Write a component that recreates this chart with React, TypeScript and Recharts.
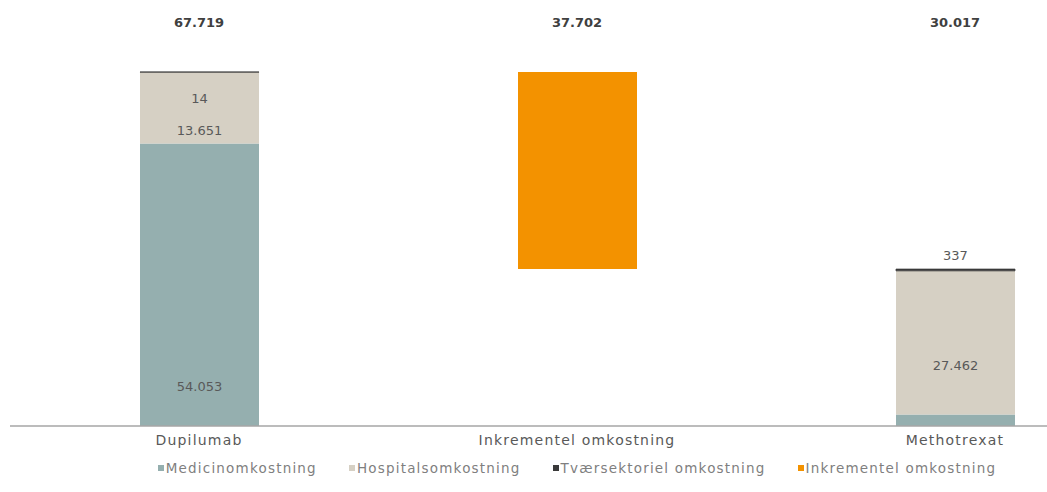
import { BarChart, Bar, XAxis, YAxis, LabelList, Legend } from 'recharts'

// costs per patient (DKK)
const categories = ['Dupilumab', 'Inkrementel omkostning', 'Methotrexat']
const medicin = [54053, 0, 2218]
const hospital = [13651, 0, 27462]
const tvaersektoriel = [14, 0, 337]
const incrementBase = [0, 30017, 0]
const incremental = [0, 37702, 0]
const totals = [67719, 37702, 30017]

const data = categories.map((name, i) => ({
  name,
  medicin: medicin[i],
  hospital: hospital[i],
  tvaer: tvaersektoriel[i],
  base: incrementBase[i],
  incr: incremental[i],
}))

const FONT = "'DejaVu Sans', sans-serif"
const TEXT = '#595959'

const series = [
  { key: 'medicin', name: 'Medicinomkostning', color: '#95afaf' },
  { key: 'hospital', name: 'Hospitalsomkostning', color: '#d6d0c4' },
  { key: 'tvaer', name: 'Tværsektoriel omkostning', color: '#3a3a3a' },
  { key: 'incr', name: 'Inkrementel omkostning', color: '#f39200' },
]

const fmt = (v: number) => String(v).replace(/\B(?=(\d{3})+(?!\d))/g, '.')

const segLabel = (y: number, x: number, w: number, v: number, key: string) => (
  <text
    key={key}
    x={x + w / 2}
    y={y}
    textAnchor="middle"
    dominantBaseline="central"
    fontFamily={FONT}
    fontSize={13}
    fill={TEXT}
  >
    {fmt(v)}
  </text>
)

const TotalTick = (props: any) => (
  <text
    x={props.x}
    y={22}
    textAnchor="middle"
    dominantBaseline="central"
    fontFamily={FONT}
    fontSize={13}
    fontWeight="bold"
    fill="#404040"
  >
    {fmt(totals[props.index])}
  </text>
)

const legendContent = () => (
  <div
    style={{
      display: 'flex',
      justifyContent: 'center',
      gap: 32,
      fontFamily: FONT,
      fontSize: 13.5,
      letterSpacing: 1.2,
      color: '#7f7f7f',
    }}
  >
    {series.map((s) => (
      <span key={s.key} style={{ display: 'flex', alignItems: 'center' }}>
        <span style={{ width: 6, height: 6, background: s.color, marginRight: 2, display: 'inline-block' }} />
        {s.name}
      </span>
    ))}
  </div>
)

export default function App() {
  return (
    <div style={{ position: 'absolute', left: 0, top: 0, width: 1047, height: 492, overflow: 'hidden', background: '#fff' }}>
      <BarChart width={1150} height={492} data={data} margin={{ top: 0, right: 6, left: 10, bottom: 16 }} barSize={119}>
        <XAxis
          dataKey="name"
          height={34}
          tickLine={false}
          tickSize={0}
          tickMargin={9}
          axisLine={{ stroke: '#a6a6a6', strokeWidth: 1.5 }}
          tick={{ fill: TEXT, fontFamily: FONT, fontSize: 14, letterSpacing: 1.2 }}
        />
        <XAxis
          xAxisId="top"
          dataKey="name"
          orientation="top"
          height={72}
          axisLine={false}
          tickLine={false}
          tick={TotalTick}
        />
        <YAxis hide domain={[0, 67719]} />
        <Legend verticalAlign="bottom" content={legendContent} />
        <Bar dataKey="medicin" name="Medicinomkostning" stackId="a" fill="#95afaf" isAnimationActive={false}>
          <LabelList
            dataKey="medicin"
            content={(p: any) =>
              p.index === 0 ? segLabel(p.y + p.height - 40, p.x, p.width, p.value, 'm') : null
            }
          />
        </Bar>
        <Bar dataKey="hospital" name="Hospitalsomkostning" stackId="a" fill="#d6d0c4" isAnimationActive={false}>
          <LabelList
            dataKey="hospital"
            content={(p: any) =>
              p.value > 0 ? segLabel(p.y + p.height / 2 + 23, p.x, p.width, p.value, 'h') : null
            }
          />
        </Bar>
        <Bar
          dataKey="tvaer"
          name="Tværsektoriel omkostning"
          stackId="a"
          fill="#3a3a3a"
          stroke="#3a3a3a"
          strokeWidth={0.8}
          isAnimationActive={false}
        >
          <LabelList
            dataKey="tvaer"
            content={(p: any) =>
              p.value > 0 ? segLabel(p.index === 0 ? p.y + 26 : p.y - 14, p.x, p.width, p.value, 't') : null
            }
          />
        </Bar>
        <Bar dataKey="base" stackId="a" fill="transparent" legendType="none" isAnimationActive={false} />
        <Bar dataKey="incr" name="Inkrementel omkostning" stackId="a" fill="#f39200" isAnimationActive={false} />
      </BarChart>
    </div>
  )
}
